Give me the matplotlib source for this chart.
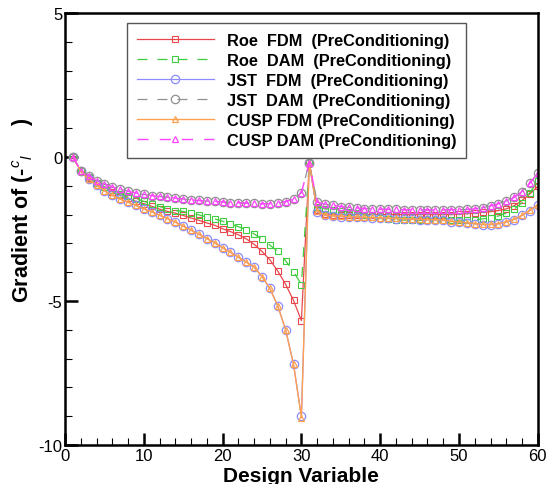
import matplotlib.pyplot as plt
import numpy as np
from matplotlib.ticker import MultipleLocator

plt.rcParams['font.family'] = ['Liberation Sans', 'DejaVu Sans']
plt.rcParams['mathtext.fontset'] = 'custom'
plt.rcParams['mathtext.it'] = 'Liberation Sans:italic'
plt.rcParams['mathtext.rm'] = 'Liberation Sans:bold'
plt.rcParams['axes.unicode_minus'] = False

# 设计变量 1..60
design_var = np.arange(1, 61)

roe_fdm = [0, -0.48, -0.72, -0.9, -1.05, -1.2, -1.32, -1.43, -1.54, -1.62,
           -1.71, -1.81, -1.89, -1.95, -2.03, -2.12, -2.2, -2.29, -2.37, -2.49,
           -2.59, -2.7, -2.84, -3.03, -3.28, -3.57, -3.96, -4.42, -4.98, -5.68,
           -0.2, -1.85, -1.97, -2.0, -2.01, -2.0, -2.0, -2.0, -2.0, -2.0,
           -2.0, -2.0, -2.0, -2.0, -2.0, -2.0, -2.0, -2.0, -2.0, -1.98,
           -1.97, -1.95, -1.92, -1.9, -1.86, -1.8, -1.69, -1.51, -1.28, -1.02]

roe_dam = [0, -0.48, -0.71, -0.89, -1.03, -1.16, -1.27, -1.37, -1.45, -1.54,
           -1.62, -1.72, -1.8, -1.86, -1.89, -1.94, -2.01, -2.09, -2.15, -2.23,
           -2.32, -2.42, -2.52, -2.67, -2.85, -3.06, -3.28, -3.6, -3.98, -4.43,
           -0.2, -1.72, -1.8, -1.83, -1.87, -1.91, -1.96, -2.01, -2.07, -2.13,
           -2.16, -2.18, -2.19, -2.2, -2.2, -2.2, -2.2, -2.2, -2.2, -2.2,
           -2.19, -2.18, -2.15, -2.11, -2.05, -1.95, -1.81, -1.59, -1.24, -0.84]

jst_fdm = [0, -0.5, -0.77, -0.98, -1.17, -1.33, -1.46, -1.57, -1.68, -1.8,
           -1.9, -2.02, -2.14, -2.26, -2.4, -2.54, -2.68, -2.83, -2.98, -3.15,
           -3.31, -3.48, -3.65, -3.82, -4.15, -4.56, -5.17, -6.0, -7.2, -9.0,
           -0.2, -1.91, -2.03, -2.05, -2.07, -2.08, -2.09, -2.1, -2.11, -2.12,
           -2.13, -2.14, -2.15, -2.16, -2.17, -2.18, -2.19, -2.2, -2.24, -2.26,
           -2.29, -2.32, -2.35, -2.35, -2.32, -2.26, -2.17, -2.03, -1.86, -1.66]

cusp_fdm = [0, -0.5, -0.77, -0.98, -1.17, -1.33, -1.46, -1.57, -1.68, -1.8,
            -1.9, -2.02, -2.14, -2.26, -2.4, -2.54, -2.68, -2.83, -2.98, -3.15,
            -3.31, -3.48, -3.65, -3.82, -4.15, -4.56, -5.17, -6.0, -7.2, -9.05,
            -0.2, -1.89, -2.01, -2.04, -2.06, -2.07, -2.08, -2.09, -2.1, -2.11,
            -2.12, -2.13, -2.14, -2.15, -2.16, -2.17, -2.18, -2.19, -2.23, -2.25,
            -2.28, -2.31, -2.34, -2.34, -2.31, -2.25, -2.16, -2.02, -1.85, -1.65]

jst_dam = [0, -0.47, -0.65, -0.83, -0.94, -1.04, -1.12, -1.19, -1.25, -1.3,
           -1.34, -1.37, -1.4, -1.43, -1.46, -1.49, -1.51, -1.53, -1.54, -1.56,
           -1.58, -1.59, -1.6, -1.61, -1.62, -1.62, -1.6, -1.55, -1.46, -1.24,
           -0.2, -1.57, -1.64, -1.68, -1.72, -1.75, -1.77, -1.79, -1.8, -1.81,
           -1.82, -1.82, -1.83, -1.83, -1.84, -1.84, -1.84, -1.84, -1.83, -1.83,
           -1.82, -1.8, -1.76, -1.7, -1.62, -1.53, -1.4, -1.2, -0.91, -0.56]

cusp_dam = [0, -0.47, -0.65, -0.83, -0.94, -1.04, -1.12, -1.19, -1.25, -1.3,
            -1.34, -1.37, -1.4, -1.43, -1.46, -1.49, -1.51, -1.53, -1.54, -1.56,
            -1.58, -1.59, -1.6, -1.61, -1.62, -1.62, -1.6, -1.55, -1.46, -1.24,
            -0.2, -1.57, -1.64, -1.68, -1.72, -1.75, -1.77, -1.79, -1.8, -1.81,
            -1.82, -1.82, -1.83, -1.83, -1.84, -1.84, -1.84, -1.84, -1.83, -1.83,
            -1.82, -1.8, -1.76, -1.7, -1.62, -1.53, -1.4, -1.2, -0.91, -0.56]

labels = ['Roe  FDM  (PreConditioning)', 'Roe  DAM  (PreConditioning)',
          'JST  FDM  (PreConditioning)', 'JST  DAM  (PreConditioning)',
          'CUSP FDM (PreConditioning)', 'CUSP DAM (PreConditioning)']

fig = plt.figure(figsize=(5.51, 4.85), dpi=100)
ax = fig.add_axes([0.118, 0.0804, 0.858, 0.8907])

dash = (0, (8, 8))
ax.plot(design_var, roe_fdm, color='#e8484c', lw=0.9, ls='-', marker='s', ms=4.5,
        mfc='none', mew=0.8, label=labels[0])
ax.plot(design_var, roe_dam, color='#40cc40', lw=0.9, ls=dash, marker='s', ms=4.5,
        mfc='none', mew=0.8, label=labels[1])
ax.plot(design_var, jst_fdm, color='#8c8cff', lw=0.9, ls='-', marker='o', ms=6,
        mfc='none', mew=0.9, label=labels[2])
ax.plot(design_var, jst_dam, color='#909090', lw=0.9, ls=dash, marker='o', ms=6,
        mfc='none', mew=0.9, label=labels[3])
ax.plot(design_var, cusp_fdm, color='#ffa050', lw=1.0, ls='-', marker='^', ms=4.5,
        mfc='none', mew=0.9, label=labels[4])
ax.plot(design_var, cusp_dam, color='#ff44ff', lw=1.0, ls=dash, marker='^', ms=4.5,
        mfc='none', mew=0.9, label=labels[5])

ax.set_xlim(0, 60)
ax.set_ylim(-10, 5)
ax.xaxis.set_major_locator(MultipleLocator(10))
ax.xaxis.set_minor_locator(MultipleLocator(2))
ax.yaxis.set_major_locator(MultipleLocator(5))
ax.yaxis.set_minor_locator(MultipleLocator(1))
ax.tick_params(axis='both', which='major', direction='in', length=9, width=1.8,
               labelsize=12, pad=2)
ax.tick_params(axis='both', which='minor', direction='in', length=5, width=0.8)
ax.tick_params(top=False, right=False, which='both')
for s in ax.spines.values():
    s.set_linewidth(1.8)

ax.set_xlabel('Design Variable', fontsize=15, fontweight='bold', va='center')
ax.xaxis.set_label_coords(0.5, -0.07)
ax.set_ylabel(r'Gradient of (-$^{c}{}_{l}$     )', fontsize=15.5, fontweight='bold',
              va='center')
ax.yaxis.set_label_coords(-0.089, 0.545)

leg = ax.legend(loc='upper left', bbox_to_anchor=(0.131, 0.976), borderaxespad=0,
                prop={'weight': 'bold', 'size': 11.8}, handlelength=4.7,
                handletextpad=0.8, labelspacing=0.3, borderpad=0.6,
                fancybox=False, framealpha=1, edgecolor='#555555')
leg.get_frame().set_linewidth(1.0)

plt.savefig('out.png', dpi=100)
